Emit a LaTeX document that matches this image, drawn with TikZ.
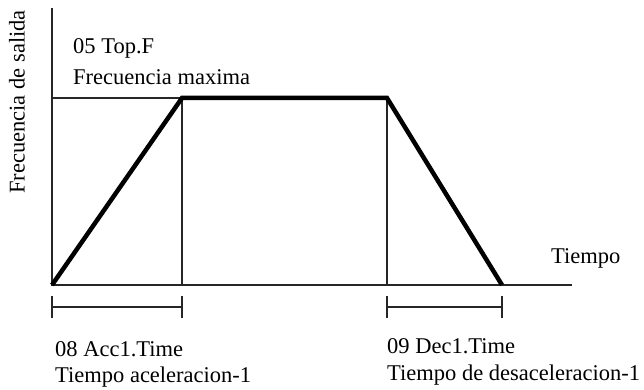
\documentclass[tikz,border=0pt]{standalone}
\usepackage{fontspec}
\setmainfont{Liberation Serif}
\usetikzlibrary{positioning}
\tikzset{
    % Axes and thin guide lines
    axisline/.style={line width=1.4pt, black!85},
    guideline/.style={line width=1.1pt, black!85},
    % Frequency profile (thick)
    profile/.style={line width=4.5pt, black, line join=miter, line cap=butt},
    % Time span bars below the axis
    spanbar/.style={line width=1.4pt, black!85},
    % Text labels
    lbl/.style={font=\fontsize{22.5}{24}\selectfont, inner sep=0pt, anchor=west},
}
\begin{document}
\begin{tikzpicture}[x=1pt,y=-1pt]
  \useasboundingbox (0,0) rectangle (644,390);
  % key points
  \coordinate (o)    at (52,285);
  \coordinate (ytop) at (52,8);
  \coordinate (xend) at (572,285);
  \coordinate (fmax) at (52,98);
  \coordinate (acctop) at (182,98);
  \coordinate (accbot) at (182,285);
  \coordinate (dectop) at (387,98);
  \coordinate (decbot) at (387,285);
  \coordinate (stop)   at (502,285);
  % span bar ends
  \coordinate (acca) at (52,307);
  \coordinate (accb) at (182,307);
  \coordinate (deca) at (387,307);
  \coordinate (decb) at (502,307);
  % axes and guides
  \draw[axisline] (ytop)--(o)--(xend);
  \draw[guideline] (fmax)--(acctop);
  \draw[guideline] (acctop)--(accbot);
  \draw[guideline] (dectop)--(decbot);
  % profile
  \draw[profile] (o)--(acctop)--(dectop)--(stop);
  % spans
  \draw[spanbar] (acca)--(accb);
  \draw[spanbar] ([yshift=-11pt]acca)--([yshift=11pt]acca);
  \draw[spanbar] ([yshift=-11pt]accb)--([yshift=11pt]accb);
  \draw[spanbar] (deca)--(decb);
  \draw[spanbar] ([yshift=-11pt]deca)--([yshift=11pt]deca);
  \draw[spanbar] ([yshift=-11pt]decb)--([yshift=11pt]decb);
  % labels
  \node[lbl,anchor=center,rotate=90] (ylab) at (17,102) {Frecuencia de salida};
  \node[lbl] (topf) at (73,48) {05 Top.F};
  \node[lbl] (fmaxlab) at (73,77) {Frecuencia maxima};
  \node[lbl] (xlab) at (551,258) {Tiempo};
  \node[lbl] (acclab) at (55,349) {08 Acc1.Time};
  \node[lbl] (acctxt) at (55,377) {Tiempo aceleracion-1};
  \node[lbl] (declab) at (387,346) {09 Dec1.Time};
  \node[lbl] (dectxt) at (387,375) {Tiempo de desaceleracion-1};
\end{tikzpicture}
\end{document}
